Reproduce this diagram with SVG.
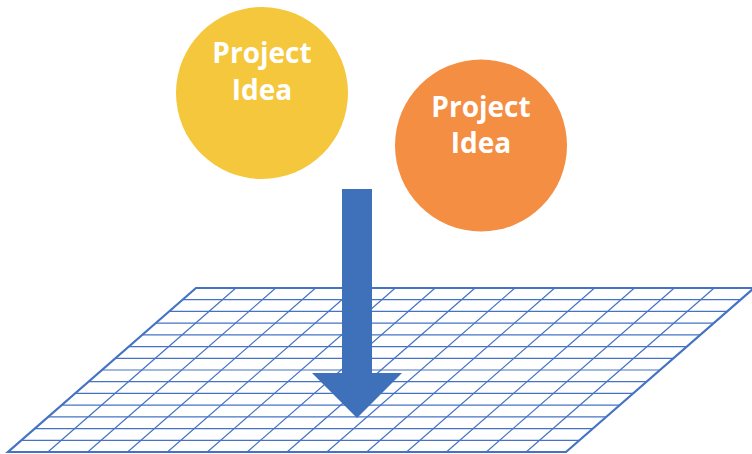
<svg xmlns="http://www.w3.org/2000/svg" width="752" height="454" viewBox="0 0 752 454">
<style>
.grid line{stroke:#4472C4;stroke-width:1.2}
.border{fill:none;stroke:#4472C4;stroke-width:2.2;stroke-linejoin:miter}
.lbl{font-family:"Open Sans","Liberation Sans",sans-serif;font-weight:700;font-size:28px;fill:#FFFFFF;text-anchor:middle}
</style>
<rect width="752" height="454" fill="#FFFFFF"/>
<g id="grid">
<g class="grid">
<line x1="182.57" y1="299.71" x2="740.57" y2="299.71"/>
<line x1="169.14" y1="311.43" x2="727.14" y2="311.43"/>
<line x1="155.71" y1="323.14" x2="713.71" y2="323.14"/>
<line x1="142.29" y1="334.86" x2="700.29" y2="334.86"/>
<line x1="128.86" y1="346.57" x2="686.86" y2="346.57"/>
<line x1="115.43" y1="358.29" x2="673.43" y2="358.29"/>
<line x1="102" y1="370" x2="660" y2="370"/>
<line x1="88.57" y1="381.71" x2="646.57" y2="381.71"/>
<line x1="75.14" y1="393.43" x2="633.14" y2="393.43"/>
<line x1="61.71" y1="405.14" x2="619.71" y2="405.14"/>
<line x1="48.29" y1="416.86" x2="606.29" y2="416.86"/>
<line x1="34.86" y1="428.57" x2="592.86" y2="428.57"/>
<line x1="21.43" y1="440.29" x2="579.43" y2="440.29"/>
<line x1="235.86" y1="288" x2="47.86" y2="452"/>
<line x1="275.71" y1="288" x2="87.71" y2="452"/>
<line x1="315.57" y1="288" x2="127.57" y2="452"/>
<line x1="355.43" y1="288" x2="167.43" y2="452"/>
<line x1="395.29" y1="288" x2="207.29" y2="452"/>
<line x1="435.14" y1="288" x2="247.14" y2="452"/>
<line x1="475" y1="288" x2="287" y2="452"/>
<line x1="514.86" y1="288" x2="326.86" y2="452"/>
<line x1="554.71" y1="288" x2="366.71" y2="452"/>
<line x1="594.57" y1="288" x2="406.57" y2="452"/>
<line x1="634.43" y1="288" x2="446.43" y2="452"/>
<line x1="674.29" y1="288" x2="486.29" y2="452"/>
<line x1="714.14" y1="288" x2="526.14" y2="452"/>
</g>
<polygon class="border" points="196,288 754,288 566,452 8,452"/>
</g>
<g id="connectors">
<polygon id="arrow" fill="#3F70BA" points="342,189 372,189 372,373 402,373 357,418 312,373 342,373"/>
</g>
<g id="idea1">
<circle cx="262" cy="93" r="86" fill="#F5C73D"/>
<text class="lbl" x="262" y="63">Project</text>
<text class="lbl" x="262" y="100">Idea</text>
</g>
<g id="idea2">
<circle cx="481" cy="145.5" r="86" fill="#F48E42"/>
<text class="lbl" x="481" y="117">Project</text>
<text class="lbl" x="481" y="152.5">Idea</text>
</g>
</svg>
